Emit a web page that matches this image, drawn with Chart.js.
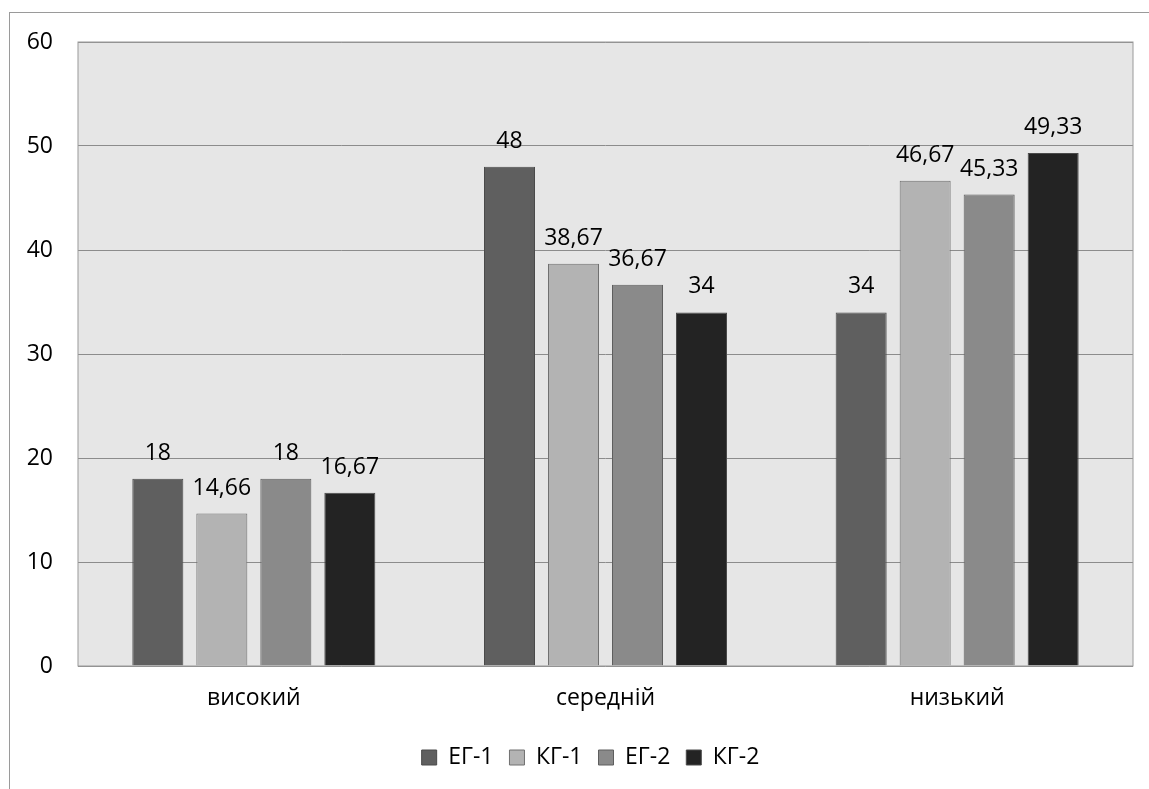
<!DOCTYPE html>
<html>
<head>
<meta charset="utf-8">
<script src="https://cdn.jsdelivr.net/npm/chart.js@4"></script>
<style>
  html, body { margin: 0; padding: 0; background: #fff; }
  #wrap { width: 1149px; height: 789px; position: relative; }
</style>
</head>
<body>
<div id="wrap"><canvas id="chart"></canvas></div>
<script>
const levels = ["високий", "середній", "низький"];
const groupNames = ["ЕГ-1", "КГ-1", "ЕГ-2", "КГ-2"];
const eg1 = [18, 48, 34];
const kg1 = [14.66, 38.67, 46.67];
const eg2 = [18, 36.67, 45.33];
const kg2 = [16.67, 34, 49.33];
const yTicks = [0, 10, 20, 30, 40, 50, 60];

const fills = ["#5f5f5f", "#b3b3b3", "#8a8a8a", "#232323"];
const edges = ["#4a4a4a", "#707070", "#5e5e5e", "#4a4a4a"];
const FONT = "'Open Sans', sans-serif";
const SIZE = 23;

// outer frame and grey plot background
const framePlugin = {
  id: "frame",
  afterLayout(chart) {
    // nudge the legend row to the right
    chart.legend.left += 24;
    chart.legend.right += 24;
  },
  beforeDraw(chart) {
    const { ctx, chartArea: a } = chart;
    ctx.save();
    ctx.fillStyle = "#e6e6e6";
    ctx.fillRect(a.left, a.top, a.right - a.left, a.bottom - a.top);
    ctx.strokeStyle = "#9a9a9a";
    ctx.lineWidth = 1;
    ctx.strokeRect(9.5, 12.5, 1200, 900);
    ctx.restore();
  },
  afterDatasetsDraw(chart) {
    const { ctx, chartArea: a } = chart;
    ctx.save();
    ctx.strokeStyle = "#9a9a9a";
    ctx.lineWidth = 1;
    ctx.strokeRect(a.left, a.top, a.right - a.left, a.bottom - a.top);
    ctx.restore();
  }
};

// value labels above each bar, decimal comma
const valuePlugin = {
  id: "values",
  afterDatasetsDraw(chart) {
    const { ctx } = chart;
    ctx.save();
    ctx.font = SIZE + "px " + FONT;
    ctx.fillStyle = "#000";
    ctx.textAlign = "center";
    ctx.textBaseline = "alphabetic";
    chart.data.datasets.forEach((ds, i) => {
      chart.getDatasetMeta(i).data.forEach((bar, j) => {
        const txt = String(ds.data[j]).replace(".", ",");
        ctx.fillText(txt, bar.x, bar.y - 19);
      });
    });
    ctx.restore();
  }
};

const series = [eg1, kg1, eg2, kg2];

new Chart(document.getElementById("chart"), {
  type: "bar",
  data: {
    labels: levels,
    datasets: series.map((vals, i) => ({
      label: groupNames[i],
      data: vals,
      backgroundColor: fills[i],
      borderColor: edges[i],
      borderWidth: 1,
      categoryPercentage: 0.728,
      barPercentage: 0.797,
    })),
  },
  options: {
    responsive: true,
    maintainAspectRatio: false,
    animation: false,
    layout: { padding: { left: 0, top: 42, right: 16, bottom: 10 } },
    scales: {
      x: {
        afterFit(scale) { scale.height = 64; },
        grid: { display: false, drawTicks: false },
        border: { display: false },
        ticks: { color: "#000", font: { family: FONT, size: SIZE }, padding: 19 },
      },
      y: {
        min: 0,
        max: 60,
        afterBuildTicks(scale) {
          scale.ticks = yTicks.map(v => ({ value: v }));
        },
        afterFit(scale) { scale.width = 78; },
        grid: { color: "#8c8c8c", drawTicks: false },
        border: { display: false },
        ticks: { color: "#000", font: { family: FONT, size: SIZE }, padding: 25 },
      },
    },
    plugins: {
      legend: {
        position: "bottom",
        labels: {
          color: "#000",
          font: { family: FONT, size: SIZE },
          boxWidth: 15,
          boxHeight: 15,
          padding: 16,
        },
      },
      tooltip: { enabled: false },
    },
  },
  plugins: [framePlugin, valuePlugin],
});
</script>
</body>
</html>
